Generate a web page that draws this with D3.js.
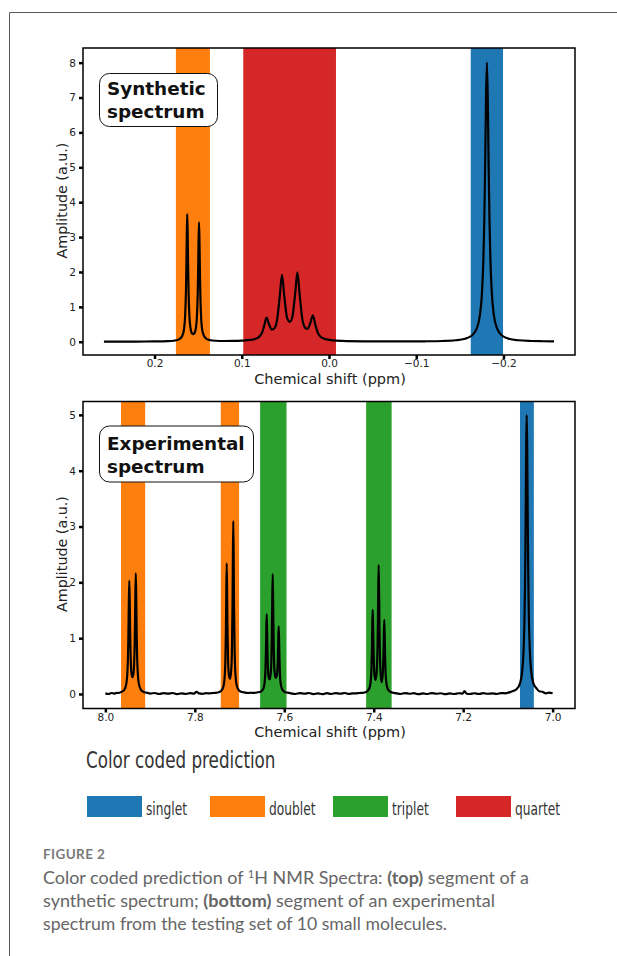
<!DOCTYPE html>
<html>
<head>
<meta charset="utf-8">
<script src="https://d3js.org/d3.v7.min.js"></script>
<style>
  html, body { margin: 0; padding: 0; background: #fff; }
  svg { display: block; }
  .tick text { font-family: "DejaVu Sans", sans-serif; font-size: 10.5px; fill: #222; }
  .tick line { stroke: #000; stroke-width: 2.5; }
</style>
</head>
<body>
<svg id="canvas" width="617" height="956"></svg>
<script>
let kCanvas = { "w": 617, "h": 956 };

let kColors = {
  "singlet": "#1f77b4",
  "doublet": "#ff7f0e",
  "triplet": "#2ca02c",
  "quartet": "#d62728",
  "line": "#000",
  "text": "#222",
  "caption": "#666",
  "card": "#5a5a5a"
};

// ---- data ----
let kTypes = ["singlet", "doublet", "triplet", "quartet"];

// [from ppm, to ppm, multiplicity]
let kSynBands = [
  [0.1755, 0.1365, "doublet"],
  [0.0983, -0.0080, "quartet"],
  [-0.1625, -0.1995, "singlet"]
];
let kExpBands = [
  [7.965, 7.911, "doublet"],
  [7.742, 7.701, "doublet"],
  [7.654, 7.595, "triplet"],
  [7.417, 7.360, "triplet"],
  [7.073, 7.042, "singlet"]
];

let kSynXTicks = [0.2, 0.1, 0.0, -0.1, -0.2];
let kSynYTicks = [0, 1, 2, 3, 4, 5, 6, 7, 8];
let kExpXTicks = [8.0, 7.8, 7.6, 7.4, 7.2, 7.0];
let kExpYTicks = [0, 1, 2, 3, 4, 5];

// [ppm, amplitude]
let kSynthetic = [
  [0.258, 0.004], [0.24, 0.005], [0.22, 0.006], [0.20, 0.009], [0.185, 0.016], [0.178, 0.029],
  [0.172, 0.068], [0.168, 0.18], [0.166, 0.40], [0.165, 0.70], [0.164, 1.44], [0.1635, 2.16],
  [0.163, 3.12], [0.1625, 3.66], [0.162, 3.12], [0.1615, 2.17], [0.161, 1.45], [0.160, 0.72],
  [0.159, 0.43], [0.1575, 0.26], [0.15575, 0.22], [0.154, 0.26], [0.1525, 0.41], [0.1515, 0.68],
  [0.1505, 1.36], [0.150, 2.03], [0.1495, 2.92], [0.149, 3.42], [0.1485, 2.92], [0.148, 2.03],
  [0.1475, 1.35], [0.1465, 0.65], [0.1455, 0.37], [0.144, 0.21], [0.141, 0.093], [0.137, 0.05],
  [0.13, 0.028], [0.12, 0.021], [0.11, 0.023], [0.10, 0.032], [0.09, 0.052], [0.085, 0.078],
  [0.08, 0.143], [0.077, 0.246], [0.0745, 0.44], [0.0716, 0.69], [0.0688, 0.50], [0.0655, 0.35],
  [0.06275, 0.38], [0.0595, 0.63], [0.0565, 1.29], [0.0539, 1.92], [0.0513, 1.32], [0.048, 0.68],
  [0.04505, 0.57], [0.042, 0.71], [0.0388, 1.37], [0.0362, 1.99], [0.0336, 1.34], [0.0305, 0.64],
  [0.02735, 0.40], [0.0245, 0.37], [0.0215, 0.53], [0.0185, 0.76], [0.0155, 0.47], [0.0125, 0.24],
  [0.009, 0.13], [0.004, 0.074], [-0.004, 0.041], [-0.015, 0.025], [-0.04, 0.013], [-0.08, 0.009],
  [-0.11, 0.013], [-0.13, 0.022], [-0.145, 0.043], [-0.155, 0.079], [-0.163, 0.164], [-0.169, 0.36],
  [-0.173, 0.76], [-0.1755, 1.46], [-0.177, 2.38], [-0.178, 3.43], [-0.179, 5.03], [-0.18, 6.97],
  [-0.181, 8.0], [-0.182, 6.97], [-0.183, 5.03], [-0.184, 3.43], [-0.185, 2.38], [-0.1865, 1.46],
  [-0.189, 0.76], [-0.193, 0.36], [-0.199, 0.164], [-0.207, 0.079], [-0.217, 0.043], [-0.232, 0.022],
  [-0.245, 0.014], [-0.258, 0.009]
];

let kExperimental = [
  [8.000, 0.01], [7.993, 0.0], [7.986, 0.018], [7.980, 0.005], [7.975, 0.02], [7.970, 0.018],
  [7.965, 0.035], [7.958, 0.07], [7.953, 0.19], [7.950, 0.52], [7.9485, 1.03], [7.9475, 1.63],
  [7.9465, 2.03], [7.9455, 1.64], [7.9445, 1.05], [7.943, 0.56], [7.9415, 0.365], [7.93925, 0.30],
  [7.937, 0.38], [7.9355, 0.585], [7.934, 1.11], [7.933, 1.74], [7.932, 2.16], [7.931, 1.73],
  [7.930, 1.09], [7.9285, 0.545], [7.9255, 0.20], [7.9205, 0.075], [7.913, 0.032], [7.906, 0.02],
  [7.900, 0.008], [7.890, 0.018], [7.880, 0.0], [7.870, 0.015], [7.860, 0.005], [7.850, 0.018],
  [7.840, -0.004], [7.830, 0.012], [7.820, 0.0], [7.810, 0.016], [7.802, 0.008], [7.796, 0.04],
  [7.791, 0.01], [7.783, 0.002], [7.775, 0.015], [7.770, 0.01], [7.762, 0.016], [7.755, 0.02],
  [7.745, 0.036], [7.738, 0.09], [7.734, 0.24], [7.7317, 0.59], [7.7304, 1.18], [7.7297, 1.74],
  [7.7287, 2.34], [7.7277, 1.76], [7.727, 1.20], [7.7257, 0.62], [7.724, 0.35], [7.72135, 0.27],
  [7.7187, 0.42], [7.717, 0.79], [7.7157, 1.57], [7.715, 2.31], [7.714, 3.10], [7.713, 2.31],
  [7.7123, 1.56], [7.711, 0.77], [7.7087, 0.30], [7.7047, 0.11], [7.698, 0.045], [7.688, 0.025],
  [7.681, 0.018], [7.675, 0.022], [7.667, 0.02], [7.660, 0.028], [7.652, 0.045], [7.6465, 0.10],
  [7.6433, 0.26], [7.642, 0.46], [7.6411, 0.73], [7.6403, 1.10], [7.6393, 1.43], [7.6383, 1.11],
  [7.6375, 0.75], [7.6366, 0.49], [7.6353, 0.32], [7.6326, 0.26], [7.6299, 0.41], [7.6286, 0.70],
  [7.6277, 1.10], [7.6269, 1.65], [7.6259, 2.15], [7.6249, 1.65], [7.6241, 1.09], [7.6232, 0.69],
  [7.6219, 0.42], [7.6192, 0.29], [7.6165, 0.33], [7.6152, 0.45], [7.6143, 0.65], [7.6135, 0.94],
  [7.6125, 1.21], [7.6115, 0.93], [7.6107, 0.62], [7.6098, 0.39], [7.6085, 0.22], [7.6045, 0.08],
  [7.598, 0.032], [7.590, 0.02], [7.583, 0.008], [7.575, 0.0], [7.565, 0.016], [7.555, 0.004],
  [7.545, 0.018], [7.535, -0.002], [7.525, 0.012], [7.515, -0.004], [7.505, 0.014], [7.495, 0.0],
  [7.485, 0.016], [7.475, 0.004], [7.465, 0.018], [7.455, 0.0], [7.447, 0.012], [7.440, 0.01],
  [7.432, 0.018], [7.425, 0.02], [7.416, 0.04], [7.4095, 0.107], [7.4063, 0.275], [7.405, 0.485],
  [7.4041, 0.77], [7.4033, 1.16], [7.4023, 1.51], [7.4013, 1.18], [7.4005, 0.80], [7.3996, 0.52],
  [7.3983, 0.34], [7.39565, 0.25], [7.393, 0.45], [7.3917, 0.755], [7.3908, 1.19], [7.3900, 1.78],
  [7.389, 2.31], [7.388, 1.78], [7.3872, 1.19], [7.3863, 0.76], [7.385, 0.42], [7.3827, 0.21],
  [7.3804, 0.30], [7.3791, 0.47], [7.3782, 0.71], [7.3774, 1.04], [7.3764, 1.33], [7.3754, 1.03],
  [7.3746, 0.68], [7.3737, 0.43], [7.3724, 0.25], [7.3684, 0.085], [7.362, 0.035], [7.355, 0.02],
  [7.348, 0.01], [7.340, 0.0], [7.330, 0.016], [7.320, 0.004], [7.310, 0.014], [7.300, -0.004],
  [7.290, 0.01], [7.280, 0.0], [7.270, 0.016], [7.260, 0.004], [7.250, 0.013], [7.240, -0.004],
  [7.230, 0.01], [7.220, 0.0], [7.210, 0.013], [7.201, 0.008], [7.197, 0.05], [7.193, 0.01],
  [7.185, 0.0], [7.175, 0.013], [7.165, 0.0], [7.155, 0.015], [7.145, 0.004], [7.135, 0.012],
  [7.125, 0.0], [7.115, 0.016], [7.105, 0.012], [7.093, 0.04], [7.080, 0.09], [7.073, 0.19],
  [7.068, 0.41], [7.065, 0.78], [7.063, 1.32], [7.062, 1.80], [7.061, 2.50], [7.060, 3.46],
  [7.059, 4.50], [7.058, 5.00], [7.057, 4.50], [7.056, 3.46], [7.055, 2.50], [7.054, 1.80],
  [7.053, 1.32], [7.051, 0.78], [7.048, 0.41], [7.043, 0.19], [7.036, 0.10], [7.030, 0.05],
  [7.023, 0.04], [7.015, 0.01], [7.008, 0.025], [7.000, 0.012]
];

// ---- layout ----
let kPanels = [
  {
    "x": 83, "y": 48, "w": 492, "h": 307,
    "xDomain": [0.282, -0.282], "yDomain": [-0.38, 8.42],
    "data": kSynthetic, "bands": kSynBands, "xTicks": kSynXTicks, "yTicks": kSynYTicks,
    "title": ["Synthetic", "spectrum"],
    "box": { "x": 99.5, "y": 73.5, "w": 118, "h": 53 }, "titleY": 95
  },
  {
    "x": 83, "y": 401.5, "w": 492, "h": 307,
    "xDomain": [8.05, 6.95], "yDomain": [-0.26, 5.24],
    "data": kExperimental, "bands": kExpBands, "xTicks": kExpXTicks, "yTicks": kExpYTicks,
    "title": ["Experimental", "spectrum"],
    "box": { "x": 99.5, "y": 426, "w": 154, "h": 56 }, "titleY": 449.5
  }
];

let svg = d3.select("#canvas");


function drawCard(){
  svg.append("path")
    .attr("d", "M9.5," + kCanvas.h + " V12.5 H" + kCanvas.w)
    .attr("fill", "none")
    .attr("stroke", kColors.card)
    .attr("stroke-width", 1);
}


function drawPanel(p){
  let x = d3.scaleLinear().domain(p.xDomain).range([p.x, p.x + p.w]);
  let y = d3.scaleLinear().domain(p.yDomain).range([p.y + p.h, p.y]);
  let g = svg.append("g");

  // colour coded multiplet bands
  g.selectAll("rect.band")
    .data(p.bands)
    .join("rect")
    .attr("class", "band")
    .attr("x", d => x(d[0]))
    .attr("width", d => x(d[1]) - x(d[0]))
    .attr("y", p.y)
    .attr("height", p.h)
    .attr("fill", d => kColors[d[2]]);

  // spectrum
  let line = d3.line()
    .x(d => x(d[0]))
    .y(d => y(d[1]))
    .curve(d3.curveMonotoneX);

  g.append("path")
    .datum(p.data)
    .attr("d", line)
    .attr("fill", "none")
    .attr("stroke", kColors.line)
    .attr("stroke-width", 2.2)
    .attr("stroke-linejoin", "round");

  // frame
  g.append("rect")
    .attr("x", p.x).attr("y", p.y)
    .attr("width", p.w).attr("height", p.h)
    .attr("fill", "none")
    .attr("stroke", "#000")
    .attr("stroke-width", 1.5);

  // axes
  g.append("g")
    .attr("transform", "translate(0," + (p.y + p.h) + ")")
    .call(d3.axisBottom(x).tickValues(p.xTicks).tickFormat(d3.format(".1f")).tickSize(4).tickPadding(1))
    .call(a => a.select(".domain").remove());

  g.append("g")
    .attr("transform", "translate(" + p.x + ",0)")
    .call(d3.axisLeft(y).tickValues(p.yTicks).tickFormat(d3.format("d")).tickSize(4).tickPadding(3))
    .call(a => a.select(".domain").remove());

  // axis labels
  g.append("text")
    .attr("x", p.x + p.w / 2 + 1)
    .attr("y", p.y + p.h + 28.5)
    .attr("text-anchor", "middle")
    .attr("font-family", "DejaVu Sans, sans-serif")
    .attr("font-size", 14.5)
    .attr("fill", kColors.text)
    .text("Chemical shift (ppm)");

  g.append("text")
    .attr("transform", "translate(67," + (p.y + p.h / 2 - 1) + ") rotate(-90)")
    .attr("text-anchor", "middle")
    .attr("font-family", "DejaVu Sans, sans-serif")
    .attr("font-size", 14.3)
    .attr("fill", kColors.text)
    .text("Amplitude (a.u.)");

  // title box
  g.append("rect")
    .attr("x", p.box.x).attr("y", p.box.y)
    .attr("width", p.box.w).attr("height", p.box.h)
    .attr("rx", 10).attr("ry", 10)
    .attr("fill", "#fff")
    .attr("stroke", "#111")
    .attr("stroke-width", 1);

  g.append("text")
    .attr("font-family", "DejaVu Sans, sans-serif")
    .attr("font-weight", "bold")
    .attr("font-size", 18.4)
    .attr("fill", "#111")
    .selectAll("tspan")
    .data(p.title)
    .join("tspan")
    .attr("x", p.box.x + 7.5)
    .attr("y", (d, i) => p.titleY + i * 23)
    .text(d => d);
}


function drawLegend(){
  let lx = d3.scalePoint().domain(kTypes).range([87, 456]);
  let ty = 768;

  svg.append("text")
    .attr("transform", "translate(86," + ty + ") scale(0.745,1)")
    .attr("font-family", "DejaVu Sans, sans-serif")
    .attr("font-size", 22.5)
    .attr("fill", "#333")
    .text("Color coded prediction");

  let item = svg.selectAll("g.legend")
    .data(kTypes)
    .join("g")
    .attr("class", "legend")
    .attr("transform", d => "translate(" + lx(d) + ",796)");

  item.append("rect")
    .attr("width", 55)
    .attr("height", 21)
    .attr("fill", d => kColors[d]);

  item.append("text")
    .attr("transform", "translate(59,19) scale(0.72,1)")
    .attr("font-family", "DejaVu Sans, sans-serif")
    .attr("font-size", 17)
    .attr("fill", "#333")
    .text(d => d);
}


function drawCaption(){
  let font = "Lato, 'Open Sans', sans-serif";

  svg.append("text")
    .attr("x", 43).attr("y", 858.5)
    .attr("font-family", font)
    .attr("font-weight", 700)
    .attr("font-size", 13.5)
    .attr("letter-spacing", 0.4)
    .attr("fill", "#7a7a7a")
    .text("FIGURE 2");

  let lines = [
    [["Color coded prediction of ", 400], ["1", "sup"], ["H NMR Spectra: ", 400], ["(top)", 700], [" segment of a", 400]],
    [["synthetic spectrum; ", 400], ["(bottom)", 700], [" segment of an experimental", 400]],
    [["spectrum from the testing set of 10 small molecules.", 400]]
  ];
  let widths = [486, 452, 404];

  lines.forEach(function(parts, li) {
    let t = svg.append("text")
      .attr("x", 43)
      .attr("y", 883.5 + li * 23)
      .attr("font-family", font)
      .attr("font-size", 17.5)
      .attr("fill", kColors.caption)
      .attr("textLength", widths[li])
      .attr("lengthAdjust", "spacingAndGlyphs");

    parts.forEach(function(pt) {
      let s = t.append("tspan").text(pt[0]);
      if (pt[1] === "sup") {
        s.attr("font-size", 11).attr("baseline-shift", "super");
      } else {
        s.attr("font-weight", pt[1]);
      }
    });
  });
}


drawCard();
kPanels.forEach(drawPanel);
drawLegend();
drawCaption();
</script>
</body>
</html>
